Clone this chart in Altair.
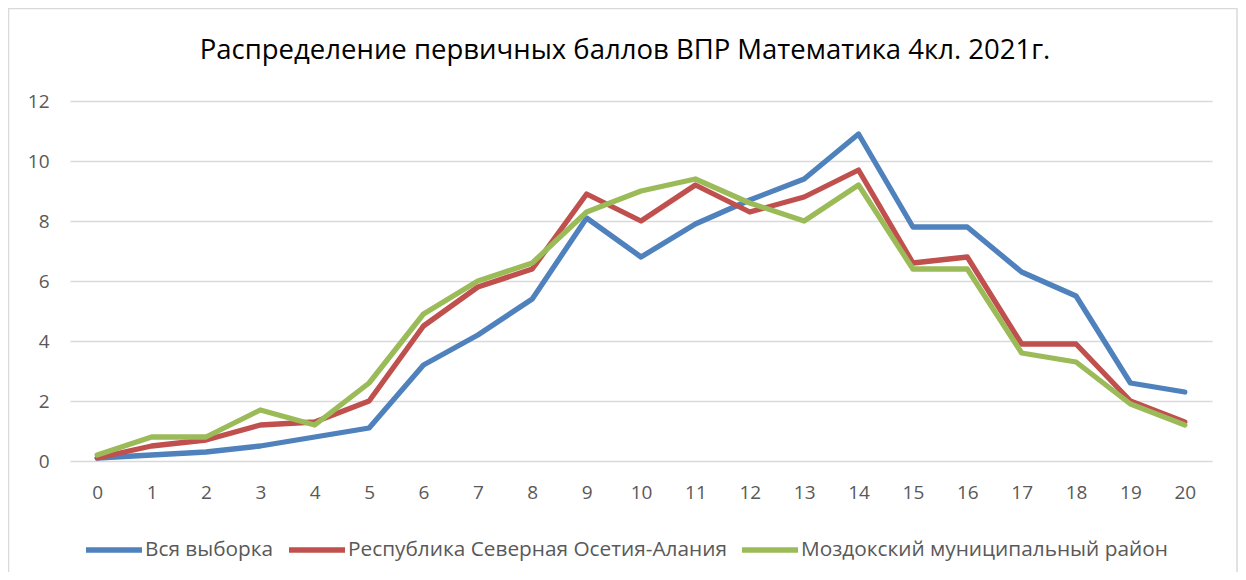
import altair as alt
import pandas as pd

scores = list(range(21))
series_names = [
    "Вся выборка",
    "Республика Северная Осетия-Алания",
    "Моздокский муниципальный район",
]
vsya = [0.1, 0.2, 0.3, 0.5, 0.8, 1.1, 3.2, 4.2, 5.4, 8.1, 6.8, 7.9, 8.7, 9.4, 10.9, 7.8, 7.8, 6.3, 5.5, 2.6, 2.3]
rso = [0.1, 0.5, 0.7, 1.2, 1.3, 2.0, 4.5, 5.8, 6.4, 8.9, 8.0, 9.2, 8.3, 8.8, 9.7, 6.6, 6.8, 3.9, 3.9, 2.0, 1.3]
mozdok = [0.2, 0.8, 0.8, 1.7, 1.2, 2.6, 4.9, 6.0, 6.6, 8.3, 9.0, 9.4, 8.6, 8.0, 9.2, 6.4, 6.4, 3.6, 3.3, 1.9, 1.2]
colors = ["#4F81BD", "#C0504D", "#9BBB59"]
y_ticks = [0, 2, 4, 6, 8, 10, 12]
title_text = "Распределение первичных баллов ВПР Математика 4кл. 2021г."

FONT = "Open Sans"
W, H = 1142, 360
PAD_L, PAD_T = 62, 93

rows = []
for name, vals in zip(series_names, [vsya, rso, mozdok]):
    for s, v in zip(scores, vals):
        rows.append({"score": s, "value": v, "series": name})
df = pd.DataFrame(rows)

lines = alt.Chart(df).mark_line(
    strokeWidth=5.3, strokeCap="round", strokeJoin="round"
).encode(
    x=alt.X(
        "score:O",
        scale=alt.Scale(type="point", padding=0.5),
        axis=alt.Axis(
            title=None, labelAngle=0, ticks=False, domain=False, grid=False,
            labelPadding=22, labelFontSize=19, labelColor="#595959", labelFont=FONT,
        ),
    ),
    y=alt.Y(
        "value:Q",
        scale=alt.Scale(domain=[0, 12], nice=False),
        axis=alt.Axis(
            title=None, values=y_ticks, ticks=False, domain=False, grid=True,
            gridColor="#d9d9d9", gridWidth=1.3, labelPadding=21,
            labelFontSize=19, labelColor="#595959", labelFont=FONT,
        ),
    ),
    color=alt.Color(
        "series:N",
        sort=series_names,
        scale=alt.Scale(domain=series_names, range=colors),
        legend=alt.Legend(
            title=None, orient="none", direction="horizontal",
            legendX=13, legendY=418, padding=0,
            symbolType="stroke", symbolSize=3136, symbolStrokeWidth=5.5,
            labelFontSize=20.8, labelColor="#595959", labelFont=FONT,
            labelOffset=0, columnPadding=4, labelLimit=0,
        ),
    ),
    order=alt.Order("score:Q"),
)

border = alt.Chart(pd.DataFrame({"a": [0]})).mark_rect(
    fill="white", fillOpacity=0, stroke="#d9d9d9", strokeWidth=1.5
).encode(
    x=alt.value(-PAD_L + 0.5),
    x2=alt.value(1230 - PAD_L - 1),
    y=alt.value(-PAD_T + 0.5),
    y2=alt.value(H + 200),
)

title = alt.Chart(pd.DataFrame({"t": [title_text]})).mark_text(
    align="center", baseline="alphabetic", fontSize=27.5, font=FONT, color="#000000"
).encode(
    text="t:N",
    x=alt.value(617 - PAD_L),
    y=alt.value(51 - PAD_T),
)

chart = alt.layer(border, lines, title).properties(
    width=W,
    height=H,
    padding={"left": PAD_L, "top": PAD_T, "right": 1230 - PAD_L - W, "bottom": 564 - PAD_T - H},
    autosize=alt.AutoSizeParams(type="none"),
).configure_view(stroke=None)

chart.save("out.html", embed_options={"renderer": "svg", "actions": False})
